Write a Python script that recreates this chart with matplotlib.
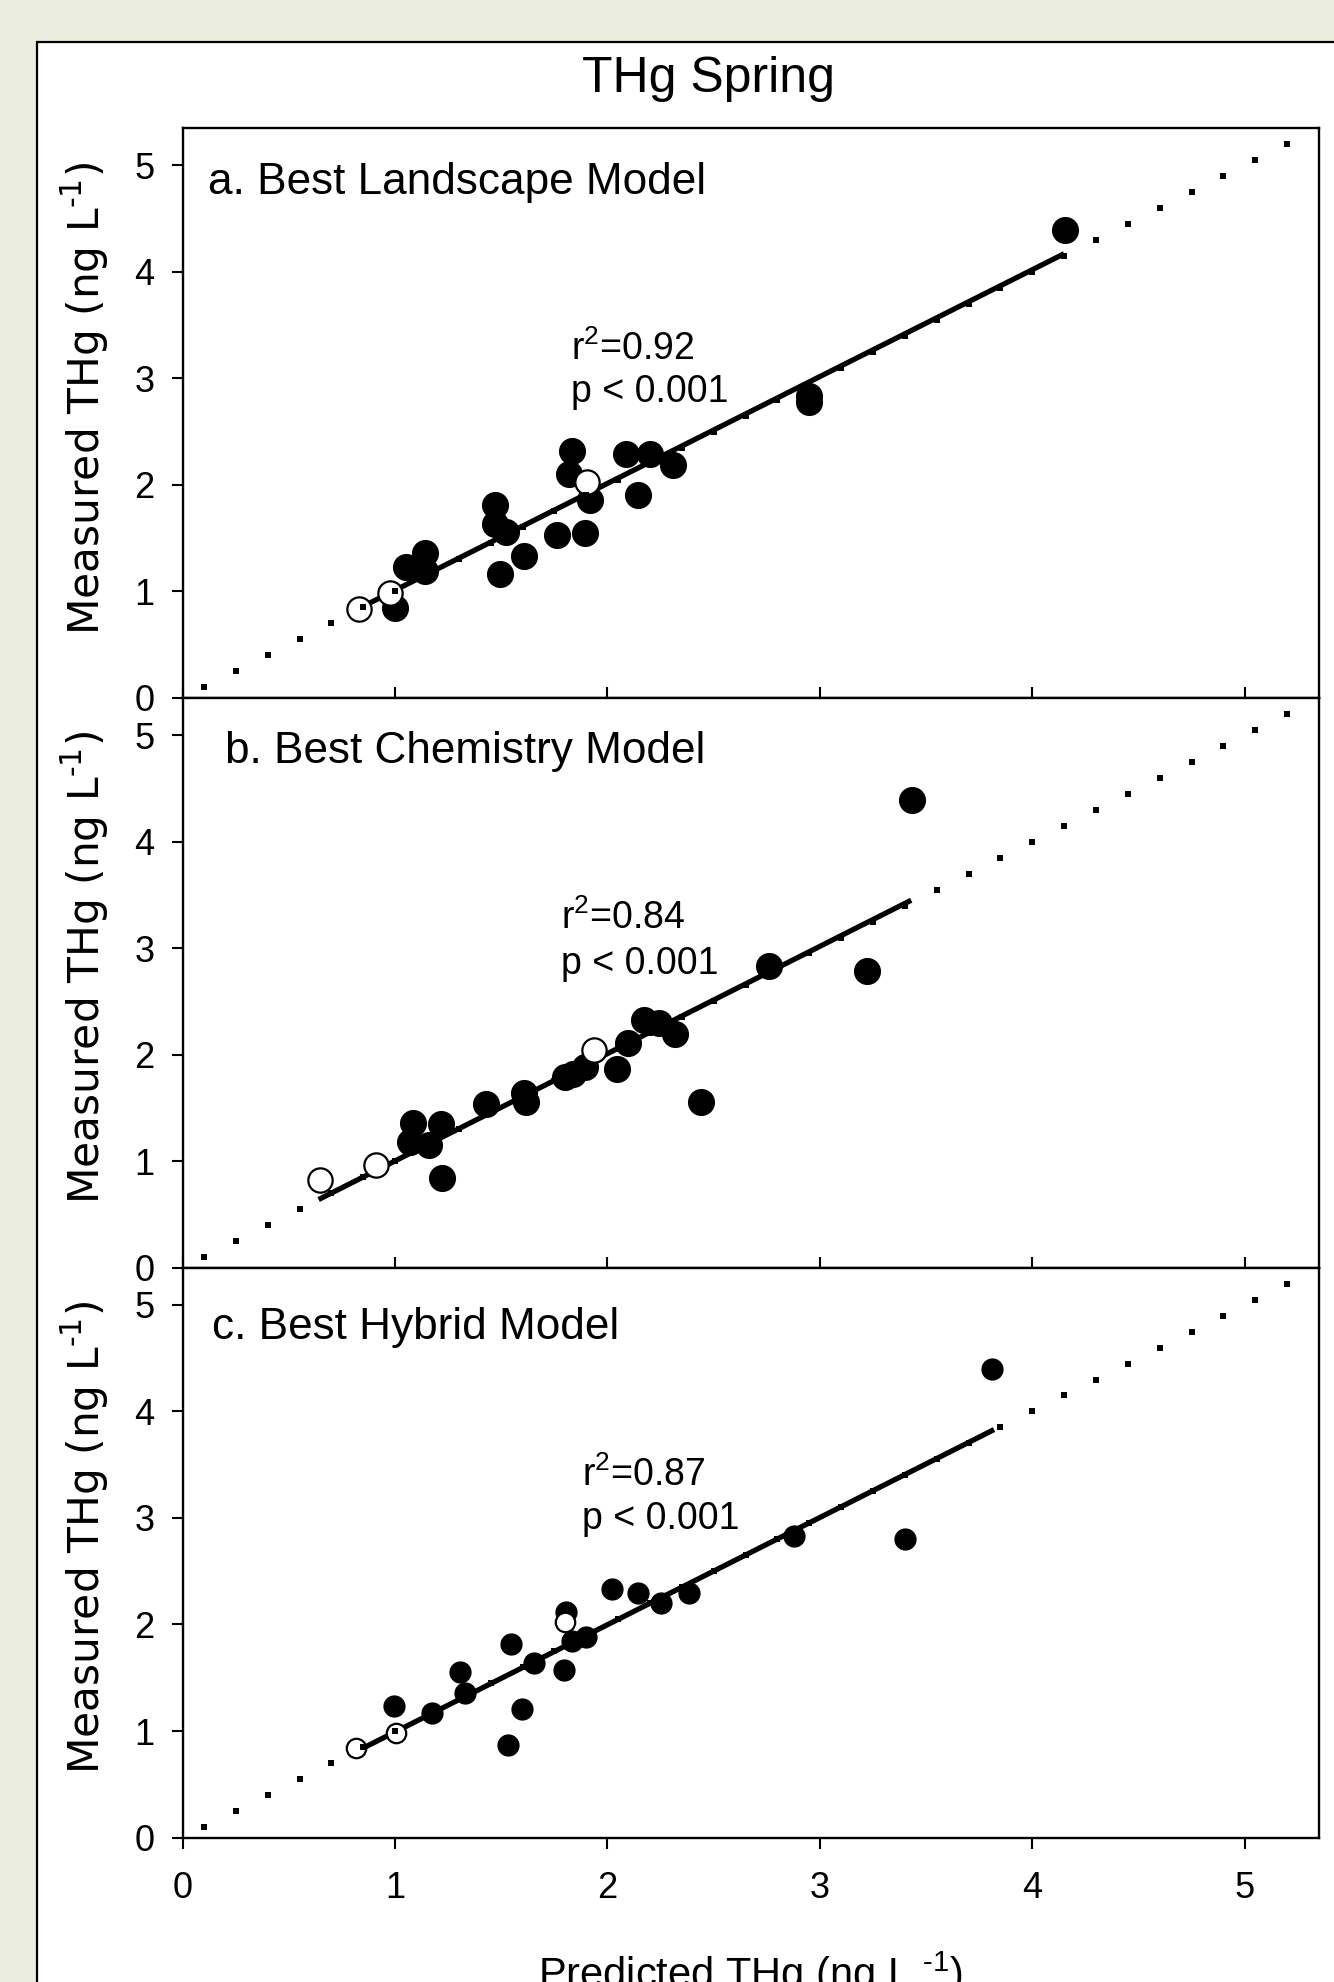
import matplotlib
matplotlib.use('Agg')
import matplotlib.pyplot as plt
import numpy as np
from matplotlib.patches import Rectangle

plt.rcParams['font.family'] = ['Liberation Sans', 'DejaVu Sans']
plt.rcParams['mathtext.default'] = 'regular'

# ---------------- data ----------------
title = 'THg Spring'
panel_labels = ['a. Best Landscape Model', 'b. Best Chemistry Model', 'c. Best Hybrid Model']
r2_values = ['0.92', '0.84', '0.87']
p_label = 'p < 0.001'
ylabel = 'Measured THg (ng L$^{\u20101}$)'
xlabel = 'Predicted THg (ng L $^{\u20101}$)'
tick_values = [0, 1, 2, 3, 4, 5]

# a. Landscape model
land_pred = [1.00, 1.05, 1.142, 1.139, 1.471, 1.471, 1.523, 1.492, 1.606, 1.763, 1.895,
             1.832, 1.821, 1.92, 2.085, 2.198, 2.307, 2.143, 2.95, 2.95, 4.155]
land_meas = [0.845, 1.226, 1.36, 1.189, 1.815, 1.634, 1.555, 1.164, 1.336, 1.533, 1.549,
             2.322, 2.10, 1.855, 2.29, 2.285, 2.19, 1.909, 2.83, 2.78, 4.39]
land_open_pred = [0.83, 0.977, 1.904]
land_open_meas = [0.83, 0.98, 2.03]
land_fit_x = [0.84, 4.15]
land_fit_y = [0.85, 4.17]

# b. Chemistry model
chem_pred = [1.084, 1.068, 1.159, 1.217, 1.222, 1.429, 1.609, 1.617, 1.798, 1.837, 1.892,
             2.044, 2.095, 2.174, 2.241, 2.32, 2.44, 2.762, 3.22, 3.435]
chem_meas = [1.36, 1.18, 1.15, 1.347, 0.845, 1.535, 1.636, 1.557, 1.79, 1.82, 1.886,
             1.87, 2.11, 2.33, 2.30, 2.19, 1.556, 2.83, 2.79, 4.39]
chem_open_pred = [0.648, 0.911, 1.936]
chem_open_meas = [0.82, 0.96, 2.04]
chem_fit_x = [0.64, 3.43]
chem_fit_y = [0.64, 3.45]

# c. Hybrid model
hyb_pred = [0.994, 1.175, 1.304, 1.33, 1.547, 1.597, 1.531, 1.656, 1.794, 1.805, 1.834,
            1.90, 2.022, 2.143, 2.253, 2.383, 2.877, 3.402, 3.809]
hyb_meas = [1.238, 1.172, 1.557, 1.354, 1.814, 1.207, 0.869, 1.641, 1.573, 2.12, 1.845,
            1.886, 2.33, 2.293, 2.2, 2.30, 2.834, 2.80, 4.40]
hyb_open_pred = [0.814, 1.006, 1.802]
hyb_open_meas = [0.837, 0.978, 2.026]
hyb_fit_x = [0.81, 3.82]
hyb_fit_y = [0.80, 3.83]

# 1:1 reference line (drawn as dots)
one_to_one = np.arange(0.1, 5.21, 0.15)

panels = [
    (land_pred, land_meas, land_open_pred, land_open_meas, land_fit_x, land_fit_y),
    (chem_pred, chem_meas, chem_open_pred, chem_open_meas, chem_fit_x, chem_fit_y),
    (hyb_pred, hyb_meas, hyb_open_pred, hyb_open_meas, hyb_fit_x, hyb_fit_y),
]

# ---------------- layout / style ----------------
BG = '#EBEEDE'
W_PX, H_PX = 1334, 1982
fig = plt.figure(figsize=(W_PX / 100, H_PX / 100), dpi=100, facecolor=BG)

frame = Rectangle((36.7 / W_PX, -0.05), 1.2, 1 - 41.7 / H_PX + 0.05,
                  transform=fig.transFigure, facecolor='white', edgecolor='black',
                  lw=1.6, zorder=-5)
fig.add_artist(frame)

left = 182.7 / W_PX
width = (1319 - 182.7) / W_PX
h = 0.2875
bottoms = [0.0729 + 2 * h, 0.0729 + h, 0.0729]
marker_sizes = [18.5, 18.5, 15]
label_pos = [(0.12, 4.73), (0.197, 4.74), (0.138, 4.68)]
r2_pos = [(1.83, 3.17, 2.78), (1.78, 3.18, 2.76), (1.878, 3.30, 2.90)]

for i, (px, my, opx, omy, fx, fy) in enumerate(panels):
    ax = fig.add_axes([left, bottoms[i], width, h])
    ax.set_facecolor('white')
    ax.set_xlim(0, 5.35)
    ax.set_ylim(0, 5.35)
    for s in ax.spines.values():
        s.set_linewidth(1.7)
        s.set_color('black')

    ax.plot(fx, fy, color='black', lw=3.8, solid_capstyle='butt', zorder=2)
    ax.plot(px, my, 'o', color='black', ms=marker_sizes[i], zorder=3)
    ax.plot(opx, omy, 'o', mfc='white', mec='black', mew=1.6,
            ms=marker_sizes[i] - 1, zorder=3)
    ax.plot(one_to_one, one_to_one, 's', color='black', ms=3.8, mew=0, zorder=4)

    ax.set_xticks(tick_values)
    ax.set_yticks(tick_values)
    ax.tick_params(axis='y', direction='out', length=8, width=1.5, pad=12.5,
                   labelsize=26)
    if i < 2:
        ax.tick_params(axis='x', direction='in', length=8, width=1.5,
                       labelbottom=False)
    else:
        ax.tick_params(axis='x', direction='out', length=8, width=1.5, pad=16,
                       labelsize=26)
        ax.set_xlabel(xlabel, fontsize=30, va='baseline')
        ax.xaxis.set_label_coords(0.5, (1837.5 - 1988) / 570.5)

    ax.set_ylabel(ylabel, fontsize=30.5, family='DejaVu Sans', va='center')
    ax.yaxis.set_label_coords((85 - 182.7) / 1136.3, 0.526)

    lx, ly = label_pos[i]
    ax.text(lx, ly, panel_labels[i], fontsize=31.8, ha='left', va='baseline')
    rx, ry1, ry2 = r2_pos[i]
    ax.text(rx, ry1, 'r$^{2}$=' + r2_values[i], fontsize=27, ha='left', va='baseline')
    ax.text(rx, ry2, p_label, fontsize=27, ha='left', va='baseline')

fig.text(708 / W_PX, 1 - 91.7 / H_PX, title, fontsize=36, ha='center', va='baseline')

fig.savefig('out.png', dpi=100, facecolor=BG)
